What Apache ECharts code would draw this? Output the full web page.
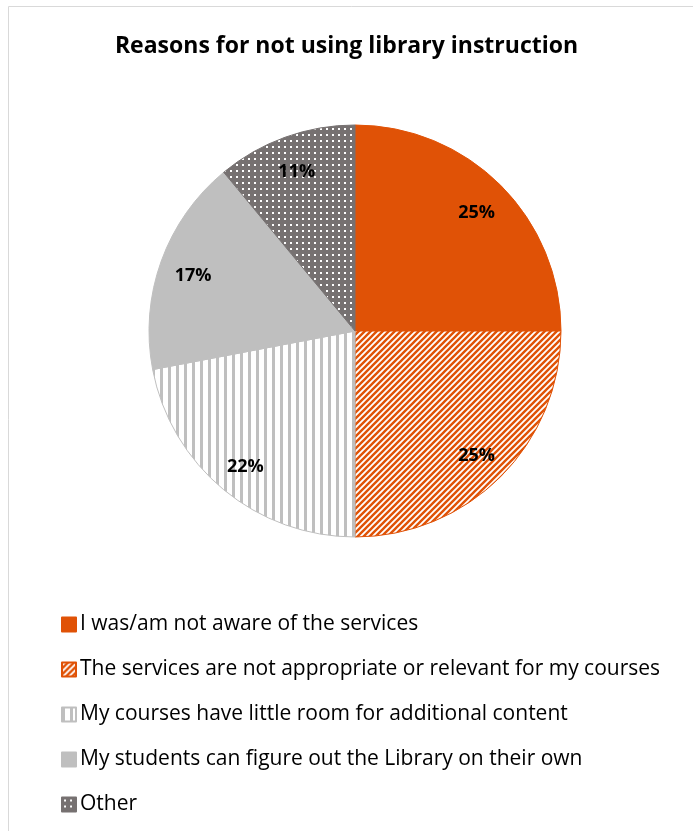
<!DOCTYPE html>
<html lang="en">
<head>
    <meta charset="UTF-8">
    <title>Reasons for not using library instruction</title>
    <script src="https://cdn.jsdelivr.net/npm/echarts@6/dist/echarts.min.js"></script>
    <style>
        html, body { margin: 0; padding: 0; background: #fff; }
    </style>
</head>
<body>
<div id="container" style="width: 693px; height: 831px;"></div>

<script>
    var titleText = 'Reasons for not using library instruction';
    var reasons = [
        'I was/am not aware of the services',
        'The services are not appropriate or relevant for my courses',
        'My courses have little room for additional content',
        'My students can figure out the Library on their own',
        'Other'
    ];
    var percents = [25, 25, 22, 17, 11];

    // fill patterns, like the Excel ones
    function makeCanvas(w, h) {
        var c = document.createElement('canvas');
        c.width = w;
        c.height = h;
        return c;
    }

    function diagonalHatch() {
        var c = makeCanvas(6, 6);
        var ctx = c.getContext('2d');
        ctx.fillStyle = '#ffffff';
        ctx.fillRect(0, 0, 6, 6);
        ctx.strokeStyle = '#e05206';
        ctx.lineWidth = 2.4;
        ctx.beginPath();
        ctx.moveTo(-3, 3); ctx.lineTo(3, -3);
        ctx.moveTo(0, 6); ctx.lineTo(6, 0);
        ctx.moveTo(3, 9); ctx.lineTo(9, 3);
        ctx.stroke();
        return c;
    }

    function verticalStripes() {
        var c = makeCanvas(8, 8);
        var ctx = c.getContext('2d');
        ctx.fillStyle = '#ffffff';
        ctx.fillRect(0, 0, 8, 8);
        ctx.fillStyle = '#bfbfbf';
        ctx.fillRect(0, 0, 3, 8);
        return c;
    }

    function dots() {
        var c = makeCanvas(6, 6);
        var ctx = c.getContext('2d');
        ctx.fillStyle = '#767171';
        ctx.fillRect(0, 0, 6, 6);
        ctx.fillStyle = '#ffffff';
        ctx.fillRect(2, 2, 2, 2);
        return c;
    }

    var fills = [
        '#e05206',
        {image: diagonalHatch(), repeat: 'repeat'},
        {image: verticalStripes(), repeat: 'repeat'},
        '#bfbfbf',
        {image: dots(), repeat: 'repeat'}
    ];
    var edges = ['#e05206', '#e05206', '#bfbfbf', '#bfbfbf', '#767171'];

    var pieData = reasons.map(function (name, i) {
        return {
            name: name,
            value: percents[i],
            itemStyle: {color: fills[i], borderColor: edges[i], borderWidth: 1}
        };
    });

    var labelData = reasons.map(function (name, i) {
        return {name: name, value: percents[i]};
    });

    var myChart = echarts.init(document.getElementById('container'));
    var option = {
        animation: false,
        title: {
            text: titleText,
            left: 'center',
            top: 30,
            textStyle: {
                fontFamily: 'Open Sans',
                fontWeight: 'bold',
                fontSize: 23,
                color: '#000'
            }
        },
        graphic: [{
            type: 'rect',
            shape: {x: 8.5, y: 6.5, width: 800, height: 900},
            style: {fill: 'none', stroke: '#d9d9d9', lineWidth: 1},
            silent: true
        }],
        legend: {
            orient: 'vertical',
            left: 61,
            top: 614,
            height: 260,
            padding: 0,
            itemWidth: 14,
            itemHeight: 14,
            itemGap: 24,
            icon: 'rect',
            data: reasons,
            selectedMode: false,
            textStyle: {
                fontFamily: 'Open Sans',
                fontSize: 21,
                color: '#000',
                padding: [0, 0, 0, -1]
            }
        },
        series: [
            {
                name: 'Reasons',
                type: 'pie',
                center: [355, 331],
                radius: [0, 206],
                startAngle: 90,
                clockwise: true,
                label: {show: false},
                labelLine: {show: false},
                emphasis: {disabled: true},
                data: pieData
            },
            {
                // label ring only, puts the percentages out toward the rim
                name: 'labels',
                type: 'pie',
                center: [355, 331],
                radius: [132, 206],
                startAngle: 90,
                clockwise: true,
                silent: true,
                itemStyle: {color: 'transparent'},
                label: {
                    show: true,
                    position: 'inside',
                    formatter: '{c}%',
                    fontFamily: 'Open Sans',
                    fontWeight: 'bold',
                    fontSize: 18,
                    color: '#000',
                    offset: [0, 3]
                },
                labelLine: {show: false},
                data: labelData
            }
        ]
    };
    myChart.setOption(option);
</script>
</body>
</html>
